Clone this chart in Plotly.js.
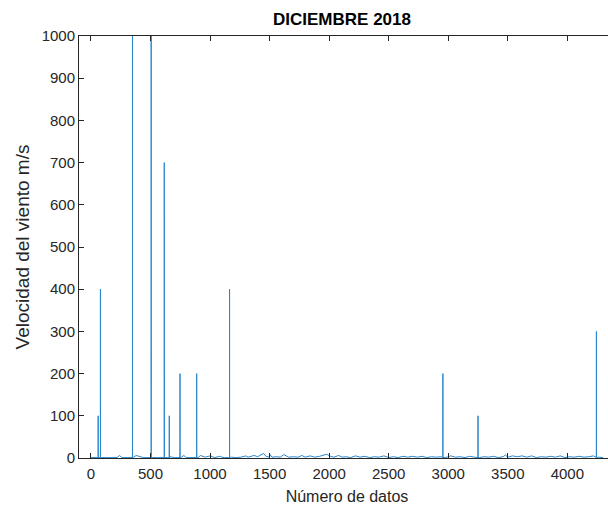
<!DOCTYPE html>
<html>
<head>
<meta charset="utf-8">
<script src="https://cdn.plot.ly/plotly-3.0.1.min.js"></script>
<style>html,body{margin:0;padding:0;overflow:hidden;background:#fff;}#chart{width:615px;height:508px;}</style>
</head>
<body>
<div id="chart"></div>
<script>
// Baseline samples (Número de datos, m/s)
const baseX = [0,40,80,120,180,220,240,260,320,360,
  380,440,500,560,600,640,660,700,760,780,
  800,860,900,920,960,1000,1040,1080,1100,1120,
  1180,1220,1260,1300,1320,1350,1370,1400,1430,1450,
  1470,1500,1505,1520,1560,1590,1620,1660,1700,1740,
  1770,1800,1840,1880,1920,1960,1980,2010,2040,2080,
  2110,2140,2180,2220,2260,2300,2340,2380,2420,2460,
  2500,2540,2580,2620,2660,2700,2740,2780,2820,2860,
  2900,2940,2980,3020,3060,3100,3140,3180,3220,3260,
  3300,3340,3380,3420,3460,3480,3500,3540,3580,3620,
  3660,3700,3740,3780,3820,3860,3900,3940,3980,4020,
  4060,4100,4140,4180,4220,4260,4300];
const baseY = [1,2,1,1,2,1,6,1,1,2,
  6,1,2,1,2,1,3,1,2,6,
  1,2,1,6,2,5,1,4,2,1,
  2,1,2,5,2,4,6,3,9,11,
  4,2,8,2,3,2,8,2,3,2,
  6,2,5,2,4,8,9,4,2,6,
  2,3,1,5,2,4,1,3,2,5,
  1,3,1,4,2,4,2,4,1,3,
  2,3,1,5,2,3,1,4,2,1,
  3,2,4,1,3,7,2,5,3,5,
  2,5,1,3,2,4,2,5,1,3,
  2,4,2,3,5,2,1];
// Spikes (outliers); the two largest run past the top of the axes
const spikeX = [61,80,349,506,616,658,748,888,1164,2955,3250,4244];
const spikeY = [100,400,1050,1050,700,100,200,200,400,200,100,300];

const xTicks = [0,500,1000,1500,2000,2500,3000,3500,4000];
const yTicks = [0,100,200,300,400,500,600,700,800,900,1000];

// merge baseline and spikes into one sorted series
const pts = baseX.map((x,i)=>[x, baseY[i]]);
spikeX.forEach((x,i)=>{ pts.push([x-0.3,1]); pts.push([x,spikeY[i]]); pts.push([x+0.3,1]); });
pts.sort((a,b)=>a[0]-b[0]);

const font = 'Liberation Sans, Arial, Helvetica, sans-serif';
const axisCommon = {
  showgrid:false, zeroline:false, showline:true, mirror:'ticks',
  linecolor:'#262626', linewidth:1, ticks:'inside', ticklen:5, tickcolor:'#262626', tickwidth:1,
  tickfont:{family:font, size:15, color:'#262626'}
};
const trace = {
  x: pts.map(p=>p[0]), y: pts.map(p=>p[1]),
  type:'scatter', mode:'lines',
  line:{color:'#2a86cc', width:1}, hoverinfo:'none'
};
const layout = {
  width:615, height:508,
  margin:{l:79, r:0, t:36, b:50},
  paper_bgcolor:'#fff', plot_bgcolor:'#fff',
  showlegend:false,
  title:{text:'<b>DICIEMBRE 2018</b>', font:{family:font, size:17, color:'#000'},
    xref:'container', x:342/615, xanchor:'center', yref:'container', y:1-19/508, yanchor:'middle'},
  xaxis:Object.assign({}, axisCommon, {range:[-100,4400], tickvals:xTicks, ticktext:xTicks.map(String),
    ticklabelstandoff:2,
    title:{text:'Número de datos', font:{family:font, size:16, color:'#262626'}, standoff:9}}),
  yaxis:Object.assign({}, axisCommon, {range:[0,1000], tickvals:yTicks, ticktext:yTicks.map(String),
    title:{text:'Velocidad del viento m/s', font:{family:font, size:19, color:'#262626'}, standoff:6}})
};
Plotly.newPlot('chart', [trace], layout, {staticPlot:true, displayModeBar:false});
</script>
</body>
</html>
